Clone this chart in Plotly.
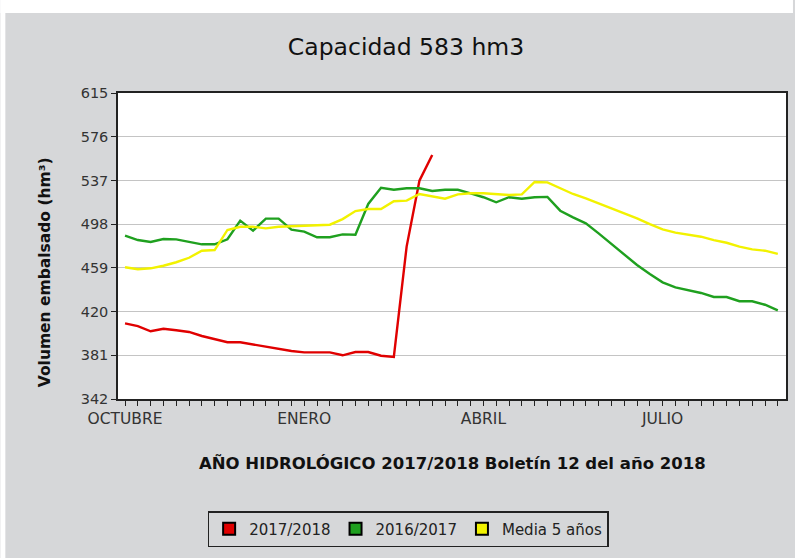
import plotly.graph_objects as go

# ---------------- data ----------------
weeks = list(range(52))
tick_labels = {0: "OCTUBRE", 14: "ENERO", 28: "ABRIL", 42: "JULIO"}

serie_2017_2018 = [409.5, 407.1, 402.4, 404.7, 403.3, 401.8, 398.2, 395.5, 392.6, 392.6,
                   390.5, 388.7, 386.3, 384.8, 383.6, 383.6, 383.6, 381.0, 383.9, 383.9,
                   380.6, 379.5, 478.0, 536.8, 559.7]

serie_2016_2017 = [487.7, 483.8, 482.1, 484.7, 484.4, 482.1, 480.0, 480.0, 484.5, 501.1,
                   492.2, 502.9, 502.9, 493.1, 491.3, 486.3, 486.3, 488.9, 488.6, 516.0,
                   530.5, 528.7, 530.0, 530.0, 527.6, 528.7, 528.7, 525.5, 522.0, 517.5,
                   522.0, 520.7, 522.0, 522.3, 510.0, 504.0, 498.7, 489.8, 480.3, 471.1,
                   461.5, 453.5, 446.1, 441.6, 439.2, 436.6, 433.0, 433.0, 429.2, 429.2,
                   426.1, 421.1]

media_5_anos = [459.5, 457.7, 458.6, 460.9, 464.0, 468.0, 474.3, 474.9, 492.8, 495.7,
                495.7, 494.2, 495.7, 496.3, 496.6, 497.2, 497.5, 502.5, 509.7, 511.5,
                511.5, 518.4, 519.0, 524.9, 522.5, 520.7, 524.6, 525.5, 525.5, 524.6,
                524.0, 524.6, 535.6, 535.3, 530.0, 524.9, 521.0, 516.6, 512.1, 507.7,
                503.2, 498.1, 493.4, 490.4, 488.3, 486.8, 483.8, 481.4, 477.9, 475.5,
                474.3, 471.4]

y_ticks = [342, 381, 420, 459, 498, 537, 576, 615]

series_names = ["2017/2018", "2016/2017", "Media 5 años"]
series_colors = ["#e00000", "#1fa01f", "#f2f200"]

# ---------------- layout constants ----------------
W, H = 795, 558
L, R, T, B = 118, 7, 93, 159
PW, PH = W - L - R, H - T - B
BG = "#d6d7d9"
FONT = "DejaVu Sans"


def px_x(px):
    return (px - L) / PW


def px_y(py):
    return (H - B - py) / PH


fig = go.Figure()

for data, name, color in zip([serie_2017_2018, serie_2016_2017, media_5_anos],
                             series_names, series_colors):
    fig.add_trace(go.Scatter(x=weeks[:len(data)], y=data, mode="lines", name=name,
                             line=dict(color=color, width=2.4), showlegend=False,
                             hoverinfo="x+y"))

# legend entries with square markers
for name, color in zip(series_names, series_colors):
    fig.add_trace(go.Scatter(x=[None], y=[None], mode="markers", name=name,
                             marker=dict(symbol="square", size=10, color=color,
                                         line=dict(color="black", width=1))))

fig.update_xaxes(range=[-0.55, 51.64], tickmode="array", tickvals=weeks,
                 ticktext=[tick_labels.get(w, "") for w in weeks],
                 ticks="outside", ticklen=5, tickcolor="#222", tickwidth=1,
                 showline=True, linecolor="#222", linewidth=1.5, mirror=True,
                 showgrid=False, zeroline=False,
                 tickfont=dict(family=FONT, size=15.5, color="#333"))
fig.update_yaxes(range=[342, 615], tickmode="array", tickvals=y_ticks,
                 ticks="outside", ticklen=5, tickcolor="#222", tickwidth=1,
                 showline=True, linecolor="#222", linewidth=1.5, mirror=True,
                 showgrid=True, gridcolor="#c4c4c4", gridwidth=1, zeroline=False,
                 tickfont=dict(family=FONT, size=14.5, color="#333"))

fig.update_layout(
    width=W, height=H,
    margin=dict(l=L, r=R, t=T, b=B, pad=0),
    paper_bgcolor=BG, plot_bgcolor="white",
    title=dict(text="Capacidad 583 hm3", x=406 / W, xanchor="center",
               y=1 - 47 / H, yanchor="middle",
               font=dict(family=FONT, size=23.5, color="#111")),
    showlegend=True,
    legend=dict(orientation="h", x=px_x(409), xanchor="center",
                y=px_y(511), yanchor="top",
                bgcolor=BG, bordercolor="#222", borderwidth=1.5,
                font=dict(family=FONT, size=15, color="#222"),
                itemwidth=30, tracegroupgap=0,
                itemsizing="constant"),
    annotations=[
        dict(text="<b>AÑO HIDROLÓGICO 2017/2018 Boletín 12 del año 2018</b>",
             xref="paper", yref="paper", x=px_x(453), y=px_y(463),
             xanchor="center", yanchor="middle", showarrow=False,
             font=dict(family=FONT, size=16.5, color="#111")),
        dict(text="<b>Volumen embalsado (hm³)</b>",
             xref="paper", yref="paper", x=px_x(45), y=px_y(272),
             xanchor="center", yanchor="middle", showarrow=False, textangle=-90,
             font=dict(family=FONT, size=15.5, color="#111")),
    ],
    shapes=[
        dict(type="rect", xref="paper", yref="paper", layer="below",
             x0=px_x(0), x1=px_x(W), y0=px_y(13), y1=px_y(0),
             fillcolor="white", line=dict(width=0)),
        dict(type="rect", xref="paper", yref="paper", layer="below",
             x0=px_x(0), x1=px_x(5), y0=px_y(H), y1=px_y(0),
             fillcolor="white", line=dict(width=0)),
    ],
)

fig.write_html("out.html",
               config={"displayModeBar": False},
               post_script="document.body.style.margin='0';document.body.style.overflow='hidden';")
